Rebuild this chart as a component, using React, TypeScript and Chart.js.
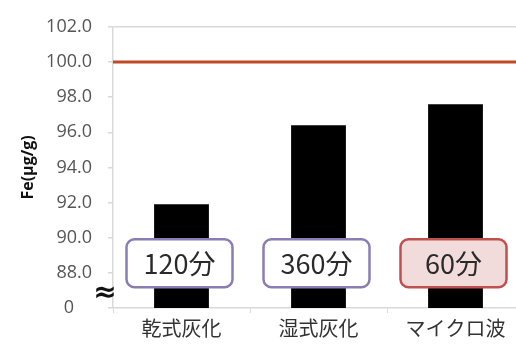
import React, { useEffect, useRef } from "react";
import { Chart, registerables } from "chart.js";

Chart.register(...registerables);

const categories = ["乾式灰化", "湿式灰化", "マイクロ波"];
const feValues = [91.9, 96.4, 97.6];
const boxLabels = ["120分", "360分", "60分"];
const boxHighlight = [false, false, true];
const referenceValue = 100;
const axisMin = 86;
const axisMax = 102;
const axisStep = 2;
const boxCenterValue = 88.55;
const breakValue = 87;

const overlayPlugin = {
  id: "overlay",
  afterDatasetsDraw(chart: any) {
    const { ctx, chartArea, scales } = chart;
    const x = scales.x;
    const y = scales.y;
    ctx.save();
    const ry = y.getPixelForValue(referenceValue);
    ctx.strokeStyle = "#bf4a26";
    ctx.lineWidth = 3;
    ctx.beginPath();
    ctx.moveTo(chartArea.left, ry);
    ctx.lineTo(chartArea.right, ry);
    ctx.stroke();

    const by = y.getPixelForValue(boxCenterValue);
    const w = 106;
    const h = 48;
    boxLabels.forEach((t, i) => {
      const cx = x.getPixelForValue(i) - 2;
      const left = cx - w / 2;
      const top = by - h / 2;
      ctx.beginPath();
      ctx.roundRect(left, top, w, h, 8);
      ctx.fillStyle = boxHighlight[i] ? "#f2dcdb" : "#ffffff";
      ctx.fill();
      ctx.lineWidth = 2.5;
      ctx.strokeStyle = boxHighlight[i] ? "#c0504d" : "#8a7db3";
      ctx.stroke();
      ctx.fillStyle = "#2a2a2a";
      ctx.font = "27px 'Noto Sans CJK JP'";
      ctx.textAlign = "center";
      ctx.textBaseline = "middle";
      ctx.fillText(t, cx, by + 1);
    });

    ctx.fillStyle = "#111111";
    ctx.font = "bold 28px 'DejaVu Sans'";
    ctx.textAlign = "center";
    ctx.textBaseline = "middle";
    ctx.fillText("≈", chartArea.left - 8, y.getPixelForValue(breakValue) + 3);
    ctx.restore();
  },
};

export default function App() {
  const ref = useRef<HTMLCanvasElement | null>(null);
  useEffect(() => {
    document.documentElement.style.overflow = "hidden";
    document.body.style.overflow = "hidden";
    const chart = new Chart(ref.current!, {
      type: "bar",
      data: {
        labels: categories,
        datasets: [
          {
            data: feValues,
            backgroundColor: "#000000",
            barPercentage: 0.4,
            categoryPercentage: 1,
          },
        ],
      },
      options: {
        animation: false,
        responsive: false,
        devicePixelRatio: 1,
        layout: { padding: { top: 24, right: 0, bottom: 0, left: 0 } },
        plugins: { legend: { display: false }, tooltip: { enabled: false } },
        scales: {
          x: {
            offset: true,
            grid: {
              offset: true,
              drawOnChartArea: false,
              tickLength: 5,
              tickColor: "#d9d9d9",
            },
            border: { color: "#d9d9d9", width: 1.5 },
            ticks: {
              color: "#333333",
              font: { family: "'Noto Sans CJK JP'", size: 20 },
              padding: 3,
              maxRotation: 0,
            },
            afterFit(s: any) {
              s.height = 39;
            },
          },
          y: {
            min: axisMin,
            max: axisMax,
            grid: {
              tickLength: 5,
              tickColor: "#d9d9d9",
              color: (c: any) => (c.tick && c.tick.value === axisMax ? "#d9d9d9" : "rgba(0,0,0,0)"),
              lineWidth: 1.5,
            },
            border: { color: "#d9d9d9", width: 1.5 },
            ticks: {
              stepSize: axisStep,
              color: "#555555",
              padding: 16,
              font: { family: "'Open Sans'", size: 18 },
              callback: (v: any) => (v === axisMin ? "0\u2003" : Number(v).toFixed(1)),
            },
            title: {
              display: true,
              text: "Fe(μg/g)",
              color: "#111111",
              font: { family: "'Open Sans'", size: 16, weight: "bold" },
              padding: { top: 19, bottom: 1 },
            },
            afterFit(s: any) {
              s.width = 113;
            },
          },
        },
      },
      plugins: [overlayPlugin],
    });
    return () => chart.destroy();
  }, []);
  return (
    <div style={{ position: "absolute", left: 0, top: 0, width: 524, height: 347 }}>
      <canvas ref={ref} width={524} height={347} />
    </div>
  );
}
